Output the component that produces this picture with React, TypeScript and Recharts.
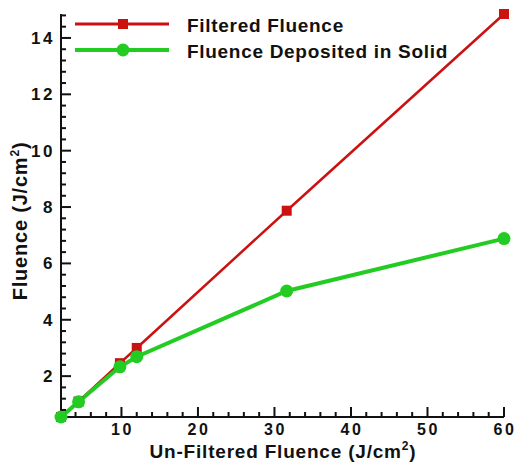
import { LineChart, Line, XAxis, YAxis } from "recharts";

const unfiltered = [2.1, 4.4, 9.8, 12, 31.6, 60];
const filtered = [0.55, 1.1, 2.46, 3.0, 7.87, 14.85];
const deposited = [0.55, 1.09, 2.33, 2.69, 5.02, 6.88];

const xMajor = [10, 20, 30, 40, 50, 60];
const xMinor = [4, 6, 8, 12, 14, 16, 18, 22, 24, 26, 28, 32, 34, 36, 38, 42, 44, 46, 48, 52, 54, 56, 58];
const yMajor = [2, 4, 6, 8, 10, 12, 14];
const yMinor = [0.8, 1.2, 1.6, 2.4, 2.8, 3.2, 3.6, 4.4, 4.8, 5.2, 5.6, 6.4, 6.8, 7.2, 7.6, 8.4, 8.8, 9.2, 9.6, 10.4, 10.8, 11.2, 11.6, 12.4, 12.8, 13.2, 13.6, 14.4, 14.8];

const RED = "#cc1111";
const GREEN = "#22cc22";
const FONT = "'Liberation Sans', Arial, sans-serif";

const data = unfiltered.map((x, i) => ({ x, filtered: filtered[i], deposited: deposited[i] }));
const xTicks = [...xMinor, ...xMajor].sort((a, b) => a - b);
const yTicks = [...yMinor, ...yMajor].sort((a, b) => a - b);

const XTick = ({ x, y, payload }: any) => {
  const major = xMajor.includes(payload.value);
  return (
    <g>
      <line x1={x} y1={y} x2={x} y2={y - (major ? 10 : 5)} stroke="#111" strokeWidth={2} />
      {major && (
        <text x={x + 1} y={y + 18} textAnchor="middle" fontFamily={FONT} fontWeight="bold" fontSize={16} letterSpacing={2.5} fill="#111">
          {payload.value}
        </text>
      )}
    </g>
  );
};

const YTick = ({ x, y, payload }: any) => {
  const major = yMajor.includes(payload.value);
  return (
    <g>
      <line x1={x} y1={y} x2={x + (major ? 10 : 5)} y2={y} stroke="#111" strokeWidth={2} />
      {major && (
        <text x={x - 6} y={y + 6} textAnchor="end" fontFamily={FONT} fontWeight="bold" fontSize={17} letterSpacing={2.5} fill="#111">
          {payload.value}
        </text>
      )}
    </g>
  );
};

const Square = ({ cx, cy }: any) => <rect x={cx - 5} y={cy - 5} width={10} height={10} fill={RED} />;
const Dot = ({ cx, cy }: any) => <circle cx={cx} cy={cy} r={6.5} fill={GREEN} />;

const LegendBox = () => (
  <svg width={400} height={60} style={{ position: "absolute", left: 75, top: 14, overflow: "visible" }}>
    <line x1={0} y1={10} x2={94} y2={10} stroke={RED} strokeWidth={3} />
    <rect x={43} y={5} width={10} height={10} fill={RED} />
    <text x={112} y={18} fontFamily={FONT} fontWeight="bold" fontSize={19} letterSpacing={0.7} fill="#111">Filtered Fluence</text>
    <line x1={0} y1={36} x2={94} y2={36} stroke={GREEN} strokeWidth={4} />
    <circle cx={48} cy={36} r={6.5} fill={GREEN} />
    <text x={112} y={43.5} fontFamily={FONT} fontWeight="bold" fontSize={19} letterSpacing={0.7} fill="#111">Fluence Deposited in Solid</text>
  </svg>
);

export default function App() {
  return (
    <div style={{ position: "absolute", left: 0, top: 0, width: 519, height: 464, background: "#fff" }}>
      <LineChart width={519} height={464} data={data} margin={{ top: 14, right: 15, left: 21, bottom: 17 }}>
        <XAxis
          dataKey="x"
          type="number"
          domain={[2.1, 60]}
          ticks={xTicks}
          interval={0}
          height={30}
          tickSize={0}
          tickMargin={0}
          axisLine={{ stroke: "#111", strokeWidth: 2 }}
          tick={<XTick />}
          label={() => (
            <text x={283} y={457.5} textAnchor="middle" fontFamily={FONT} fontWeight="bold" fontSize={19} letterSpacing={0.8} fill="#111">
              Un-Filtered Fluence (J/cm<tspan dy={-8} fontSize={12}>2</tspan><tspan dy={8}>)</tspan>
            </text>
          )}
        />
        <YAxis
          type="number"
          domain={[0.55, 14.85]}
          ticks={yTicks}
          interval={0}
          width={40}
          tickSize={0}
          tickMargin={0}
          axisLine={{ stroke: "#111", strokeWidth: 2 }}
          tick={<YTick />}
          label={() => (
            <text
              x={27}
              y={221}
              transform="rotate(-90 27 221)"
              textAnchor="middle"
              fontFamily={FONT}
              fontWeight="bold"
              fontSize={20}
              letterSpacing={0.8}
              fill="#111"
            >
              Fluence (J/cm<tspan dy={-8} fontSize={12}>2</tspan><tspan dy={8}>)</tspan>
            </text>
          )}
        />
        <Line
          dataKey="filtered"
          name="Filtered Fluence"
          stroke={RED}
          strokeWidth={2.5}
          dot={<Square />}
          isAnimationActive={false}
        />
        <Line
          dataKey="deposited"
          name="Fluence Deposited in Solid"
          stroke={GREEN}
          strokeWidth={4}
          dot={<Dot />}
          isAnimationActive={false}
        />
      </LineChart>
      <LegendBox />
    </div>
  );
}
